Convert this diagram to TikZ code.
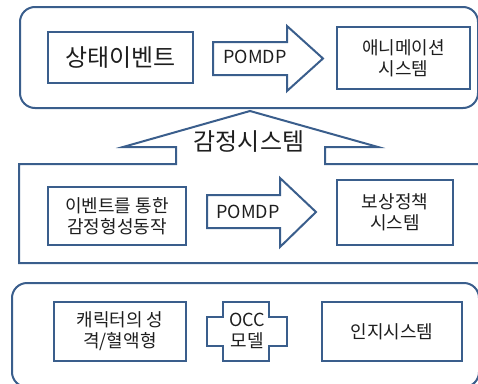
\documentclass[tikz,border=0pt]{standalone}
\usepackage{fontspec}
\setmainfont{Noto Sans CJK KR}
\definecolor{lineblue}{RGB}{58,94,140}
\definecolor{txt}{RGB}{30,30,30}
\begin{document}
\begin{tikzpicture}[x=1pt,y=-1pt,
  outline/.style={draw=lineblue,line width=2pt,line join=miter},
  box/.style={outline,fill=white,inner sep=0pt,align=center,text=txt,font=\fontsize{18}{21}\selectfont},
  lbl/.style={inner sep=0pt,align=center,text=txt,font=\fontsize{18}{21}\selectfont},
  big/.style={font=\fontsize{24}{28}\selectfont}]
\useasboundingbox (0,0) rectangle (478,383);
% top group
\draw[outline,rounded corners=15pt] (20,7) rectangle (478,108);
\node[box,big,minimum width=145pt,minimum height=51pt] (state) at (120.5,57.5) {상태이벤트};
\draw[outline] (213,42) -- (287,42) -- (287,26) -- (323,58.5) -- (287,91) -- (287,75) -- (213,75) -- cycle;
\node[lbl] (p1) at (255,57) {POMDP};
\node[box,minimum width=133pt,minimum height=62pt] (anim) at (403.5,58) {애니메이션\\시스템};
% middle group with up arrow
\draw[outline] (485,164) -- (325,164) -- (325,147) -- (378,147) -- (250,111) -- (123,147) -- (176,147) -- (176,164) -- (19,164) -- (19,263) -- (485,263);
\node[lbl,big] (emo) at (249,142) {감정시스템};
\node[box,minimum width=138pt,minimum height=58pt] (evt) at (117,216) {이벤트를 통한\\감정형성동작};
\draw[outline] (207,195) -- (280,195) -- (280,178) -- (316,212) -- (280,247) -- (280,228) -- (207,228) -- cycle;
\node[lbl] (p2) at (248,211.5) {POMDP};
\node[box,minimum width=116pt,minimum height=65pt] (reward) at (395,212.5) {보상정책\\시스템};
% bottom group
\draw[outline,rounded corners=15pt] (12,283) rectangle (479,387);
\node[box,minimum width=132pt,minimum height=59pt] (char) at (120,331.5) {캐릭터의 성\\격/혈액형};
\draw[outline] (223,302) -- (269,302) -- (269,317) -- (287,317) -- (287,346) -- (269,346) -- (269,361) -- (223,361) -- (223,346) -- (207,346) -- (207,317) -- (223,317) -- cycle;
\node[lbl] (occ) at (247,331) {OCC\\모델};
\node[box,minimum width=140pt,minimum height=59pt] (cog) at (392,331.5) {인지시스템};
\end{tikzpicture}
\end{document}
